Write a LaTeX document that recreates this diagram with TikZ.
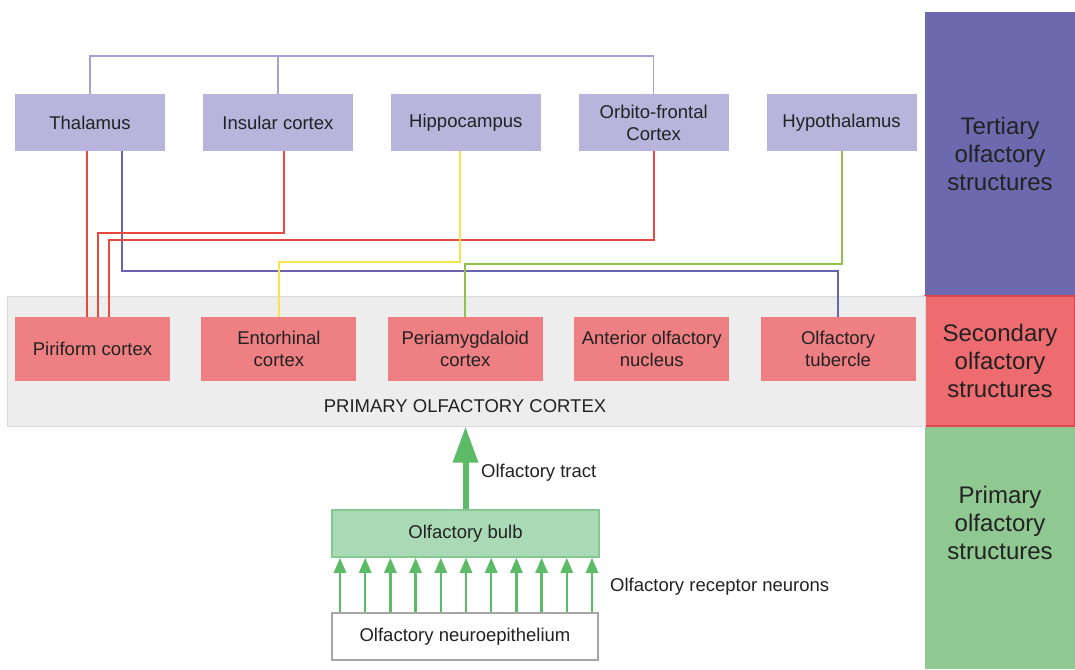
\documentclass[tikz,border=0pt]{standalone}
\usepackage{fontspec}
\setmainfont{Liberation Sans}
\usetikzlibrary{arrows.meta,positioning}

\definecolor{tertbox}{HTML}{B9B4DC}
\definecolor{tertpanel}{HTML}{6C69AE}
\definecolor{secbox}{HTML}{EE7F82}
\definecolor{secpanel}{HTML}{EE6B70}
\definecolor{secedge}{HTML}{E0454B}
\definecolor{primpanel}{HTML}{90C892}
\definecolor{bulbfill}{HTML}{A9DAB5}
\definecolor{bulbedge}{HTML}{86C98F}
\definecolor{bandfill}{HTML}{EDEDED}
\definecolor{bandedge}{HTML}{DADADA}
\definecolor{linered}{HTML}{E8483E}
\definecolor{linepurple}{HTML}{6A63AE}
\definecolor{linelilac}{HTML}{A7A2D6}
\definecolor{lineyellow}{HTML}{F5E54A}
\definecolor{linegreen}{HTML}{8CC34B}
\definecolor{arrowgreen}{HTML}{5CBB66}
\definecolor{textdark}{HTML}{222222}

\begin{document}
\begin{tikzpicture}[x=1pt,y=-1pt,
    every node/.style={text=textdark, font=\fontsize{18.5}{22}\selectfont, align=center, inner sep=0pt},
    topbox/.style={fill=tertbox, minimum width=150pt, minimum height=57pt},
    cortexbox/.style={fill=secbox, minimum width=155pt, minimum height=64pt},
    panel/.style={minimum width=150pt, font=\fontsize{24}{28}\selectfont},
    link/.style={line width=2pt},
    smallarrow/.style={draw=arrowgreen, line width=2.5pt, -{Triangle[width=12pt,length=15pt]}}]
    \useasboundingbox (0,0) rectangle (1075,669);

    % Draw the right column
    \node[panel, fill=tertpanel, minimum height=284pt] (tertiary) at (1000,154) {Tertiary\\olfactory\\structures};
    \node[panel, fill=primpanel, minimum height=243pt] (primary) at (1000,547.5) {};
    \node[panel] (primtext) at (1000,523) {Primary\\olfactory\\structures};
    \node[panel, fill=secpanel, draw=secedge, line width=1.5pt, minimum height=130pt] (secondary) at (1000,361) {Secondary\\olfactory\\structures};

    % Draw the grey band
    \node[fill=bandfill, draw=bandedge, line width=1pt, minimum width=918pt, minimum height=130pt] (band) at (466,361) {};
    \node (bandlabel) at (465,406) {PRIMARY OLFACTORY CORTEX};

    % Tertiary structures
    \node[topbox] (thal) at (90,122.5) {Thalamus};
    \node[topbox, right=37.5pt of thal] (ins) {Insular cortex};
    \node[topbox, right=37.5pt of ins] (hip) {Hippocampus};
    \node[topbox, right=37.5pt of hip] (orb) {Orbito-frontal\\Cortex};
    \node[topbox, right=37.5pt of orb] (hyp) {Hypothalamus};

    % Secondary structures
    \node[cortexbox] (piri) at (92.5,349) {Piriform cortex};
    \node[cortexbox, right=31pt of piri] (ento) {Entorhinal\\cortex};
    \node[cortexbox, right=31pt of ento] (peri) {Periamygdaloid\\cortex};
    \node[cortexbox, right=31pt of peri] (ant) {Anterior olfactory\\nucleus};
    \node[cortexbox, right=31pt of ant] (tub) {Olfactory\\tubercle};

    % Draw the links between the structures
    \draw[link, linelilac, line width=1.5pt] (thal.north) -- ++(0,-38) -| (orb.north);
    \draw[link, linelilac, line width=1.5pt] (ins.north) -- ++(0,-38);
    \draw[link, linepurple] ([xshift=32pt]thal.south) -- ++(0,120) -| (tub.north);
    \draw[link, linered] ([xshift=-3pt]thal.south) -- ([xshift=-3pt]thal.south |- piri.north);
    \draw[link, linered] ([xshift=6.5pt]ins.south) -- ++(0,82) -| ([xshift=5.5pt]piri.north);
    \draw[link, linered] (orb.south) -- ++(0,89) -| ([xshift=16.5pt]piri.north);
    \draw[link, lineyellow] ([xshift=-6pt]hip.south) -- ++(0,111) -| (ento.north);
    \draw[link, linegreen] (hyp.south) -- ++(0,113) -| (peri.north);

    % Primary structures
    \node[fill=bulbfill, draw=bulbedge, line width=1.5pt, minimum width=267pt, minimum height=47pt] (bulb) at (465.5,533.5) {Olfactory bulb};
    \node[fill=white, draw=gray!70, line width=1.2pt, minimum width=266pt, minimum height=47pt] (neuro) at (465,636.5) {Olfactory neuroepithelium};

    % Draw the tract and the receptor neurons
    \draw[draw=arrowgreen, line width=6pt, -{Triangle[width=24pt,length=36pt]}] (bulb.north) -- (bulb.north |- band.south);
    \foreach \i [evaluate=\i as \ax using -125+25.2*\i] in {0,...,10}
        \draw[smallarrow] ([xshift=\ax pt]neuro.north) -- ([xshift=\ax pt]neuro.north |- bulb.south);

    \node[anchor=west] (tractlabel) at (481,473) {Olfactory tract};
    \node[anchor=west] (neuronlabel) at (610,587) {Olfactory receptor neurons};
\end{tikzpicture}
\end{document}
